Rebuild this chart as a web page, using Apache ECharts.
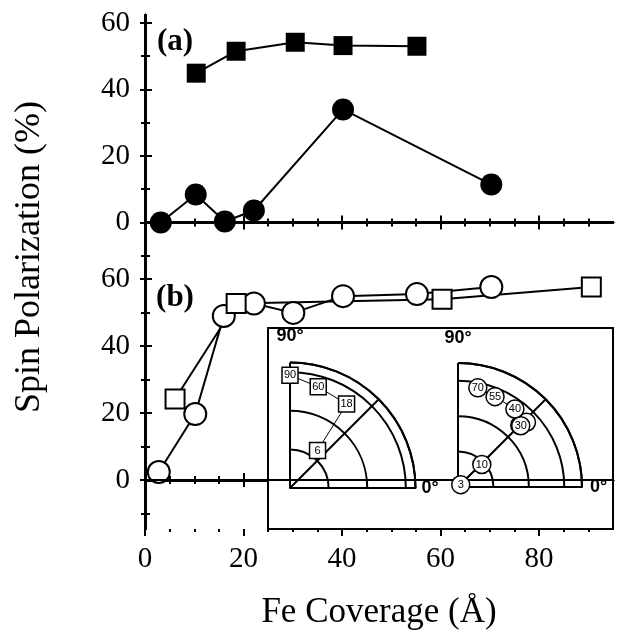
<!DOCTYPE html>
<html><head><meta charset="utf-8">
<script src="https://cdn.jsdelivr.net/npm/echarts@6/dist/echarts.min.js"></script>
<style>html,body{margin:0;padding:0;background:#fff}#c{width:618px;height:635px}</style>
</head><body><div id="c"></div>
<script>
// ---- tick values ----
const coverageMajor = [0, 20, 40, 60, 80];
const coverageMinor = [5, 10, 15, 25, 30, 35, 45, 50, 55, 65, 70, 75, 85, 90];
const polMajor = [0, 20, 40, 60];
const polMinor = [-10, 10, 30, 50];
// ---- panel (a): filled symbols ----
const aSquareX = [10.4, 18.5, 30.5, 40.2, 55.2];
const aSquareY = [44.9, 51.5, 54.2, 53.2, 53.0];
const aCircleX = [3.2, 10.3, 16.2, 22.1, 40.2, 70.3];
const aCircleY = [0, 8.4, 0.3, 3.6, 34.0, 11.4];
// ---- panel (b): open symbols ----
const bCircleX = [2.8, 10.2, 16.0, 22.1, 30.1, 40.2, 55.2, 70.3];
const bCircleY = [2.4, 19.7, 49.0, 52.7, 49.9, 54.9, 55.5, 57.6];
const bSquareX = [6.1, 18.5, 60.3, 90.6];
const bSquareY = [24.2, 52.7, 54.0, 57.6];
// ---- inset polar plots (radius = polarization, angle = degrees) ----
const sqLabels = ['90', '60', '18', '6'];
const sqRadius = [58.4, 54.4, 52.4, 24.1];
const sqAngle = [90, 74.4, 56, 53.7];
const ciLabels = ['3', '10', '16', '22', '30', '40', '55', '70'];
const ciHidden = ['16', '22'];
const ciRadius = [2, 18.5, 49.3, 53.2, 49.5, 54.5, 55.1, 57.1];
const ciAngle = [40, 43.4, 45, 43.4, 44.3, 53.9, 67.7, 78.7];

const zip = (xs, ys) => xs.map((x, i) => [x, ys[i]]);
const SERIF = 'Liberation Serif';
const SANS = 'Liberation Sans';
const AX = {color: '#000', width: 2.5};

const L = 145, W = 468;
const gridA = {left: L, top: 15, width: W, height: 256};
const gridB = {left: L, top: 271, width: W, height: 258};

function xAx(grid, pos, ticks, len, inside, extra) {
  return Object.assign({
    type: 'value', gridIndex: grid, position: pos, min: 0, max: 95,
    axisLine: {show: true, lineStyle: AX},
    axisTick: {show: true, inside: inside, length: len, customValues: ticks, lineStyle: {color: '#000', width: 2}},
    axisLabel: {show: false},
    splitLine: {show: false}
  }, extra || {});
}
function yAx(grid, pos, ticks, len, extra) {
  return Object.assign({
    type: 'value', gridIndex: grid, position: pos, min: -14.6, max: 62.4,
    axisLine: {show: true, lineStyle: AX},
    axisTick: {show: true, inside: true, length: len, customValues: ticks, lineStyle: {color: '#000', width: 2}},
    axisLabel: {show: false},
    splitLine: {show: false}
  }, extra || {});
}
const yLabel = {axisLabel: {show: true, customValues: polMajor, margin: 15, color: '#000', fontFamily: SERIF, fontSize: 29}};

const zeroLine = {silent: true, symbol: 'none', label: {show: false},
  lineStyle: {color: '#000', width: 2, type: 'solid'}, data: [{yAxis: 0}]};

function angleAx(idx, margin, pad) {
  return {
    polarIndex: idx, type: 'value', startAngle: 0, endAngle: 90, clockwise: false,
    min: 0, max: 90, interval: 45, z: 6,
    axisLine: {show: true, lineStyle: {color: '#000', width: 2}},
    axisTick: {show: false},
    splitLine: {show: true, lineStyle: {color: '#000', width: 2}},
    axisLabel: {
      show: true, margin: margin, color: '#000', fontFamily: SANS, fontWeight: 'bold', fontSize: 18,
      formatter: v => v === 90 ? '{t|90°}' : (v === 0 ? '0°' : ''),
      rich: {t: {padding: [0, 0, pad, 0], fontFamily: SANS, fontWeight: 'bold', fontSize: 18, color: '#000'}}
    }
  };
}
function radiusAx(idx, max) {
  return {
    polarIndex: idx, type: 'value', min: 0, max: max, interval: 20, z: 6,
    axisLine: {show: true, lineStyle: {color: '#000', width: 2}},
    axisTick: {show: false}, axisLabel: {show: false},
    splitLine: {show: true, lineStyle: {color: '#000', width: 2}}
  };
}
const insetLabel = {show: true, position: 'inside', formatter: '{b}', color: '#000', fontFamily: SANS, fontSize: 11};

const option = {
  animation: false,
  backgroundColor: '#fff',
  grid: [gridA, gridB, gridA, gridB, gridB, gridB],
  xAxis: [
    xAx(0, 'bottom', coverageMajor, 7, true),
    xAx(0, 'top', coverageMajor, 7, true),
    xAx(1, 'bottom', coverageMajor, 7, true, {
      axisLabel: {show: true, customValues: coverageMajor, margin: 16, color: '#000', fontFamily: SERIF, fontSize: 29},
      name: 'Fe Coverage (Å)', nameLocation: 'middle', nameGap: 66,
      nameTextStyle: {color: '#000', fontFamily: SERIF, fontSize: 35}
    }),
    xAx(1, 'top', coverageMajor, 7, true),
    xAx(2, 'bottom', coverageMinor, 4, true),
    xAx(2, 'top', coverageMinor, 4, true),
    xAx(3, 'bottom', coverageMinor, 4, true),
    xAx(3, 'top', coverageMinor, 4, true),
    xAx(4, 'bottom', coverageMajor, 7, false, {axisLine: {show: false}}),
    xAx(5, 'bottom', coverageMinor, 3, false, {axisLine: {show: false}})
  ],
  yAxis: [
    yAx(0, 'left', polMajor, 7, yLabel),
    yAx(0, 'right', polMajor, 5),
    yAx(1, 'left', polMajor, 7, yLabel),
    yAx(1, 'right', polMajor, 5),
    yAx(2, 'left', polMinor, 5),
    yAx(2, 'right', polMinor, 4),
    yAx(3, 'left', polMinor, 5),
    yAx(3, 'right', polMinor, 4),
    {type: 'value', gridIndex: 4, show: false},
    {type: 'value', gridIndex: 5, show: false}
  ],
  polar: [
    {center: [290, 488], radius: 125.5},
    {center: [458, 487], radius: 124}
  ],
  angleAxis: [angleAx(0, 6, 11), angleAx(1, 8, 8)],
  radiusAxis: [radiusAx(0, 65), radiusAx(1, 70)],
  graphic: [
    {type: 'rect', z: 5, shape: {x: 268, y: 328, width: 345, height: 201},
     style: {fill: '#fff', stroke: '#000', lineWidth: 2}},
    {type: 'text', z: 10, x: 175, y: 42, style: {text: '(a)', font: 'bold 31px "Liberation Serif"', fill: '#000', textAlign: 'center', textVerticalAlign: 'middle'}},
    {type: 'text', z: 10, x: 175, y: 298, style: {text: '(b)', font: 'bold 31px "Liberation Serif"', fill: '#000', textAlign: 'center', textVerticalAlign: 'middle'}},
    {type: 'text', z: 10, x: 30, y: 257, rotation: Math.PI / 2,
     style: {text: 'Spin Polarization (%)', font: '36px "Liberation Serif"', fill: '#000', textAlign: 'center', textVerticalAlign: 'middle'}}
  ],
  series: [
    {type: 'line', xAxisIndex: 0, yAxisIndex: 0, data: zip(aCircleX, aCircleY),
     symbol: 'circle', symbolSize: 22, itemStyle: {color: '#000'}, lineStyle: {color: '#000', width: 2},
     markLine: zeroLine},
    {type: 'line', xAxisIndex: 0, yAxisIndex: 0, data: zip(aSquareX, aSquareY),
     symbol: 'rect', symbolSize: 19, itemStyle: {color: '#000'}, lineStyle: {color: '#000', width: 2}},
    {type: 'line', xAxisIndex: 2, yAxisIndex: 2, data: zip(bCircleX, bCircleY),
     symbol: 'circle', symbolSize: 22, itemStyle: {color: '#fff', borderColor: '#000', borderWidth: 2},
     lineStyle: {color: '#000', width: 2}, markLine: zeroLine},
    {type: 'line', xAxisIndex: 2, yAxisIndex: 2, data: zip(bSquareX, bSquareY),
     symbol: 'rect', symbolSize: 19, itemStyle: {color: '#fff', borderColor: '#000', borderWidth: 2},
     lineStyle: {color: '#000', width: 2}},
    // inset polar (left): squares
    {type: 'line', coordinateSystem: 'polar', polarIndex: 0, z: 7, symbol: 'none',
     data: zip(sqRadius, sqAngle), lineStyle: {color: '#000', width: 1}},
    {type: 'scatter', coordinateSystem: 'polar', polarIndex: 0, z: 8, symbol: 'rect', symbolSize: 16,
     itemStyle: {color: '#fff', borderColor: '#000', borderWidth: 1.5, opacity: 1}, label: insetLabel,
     data: sqLabels.map((n, i) => ({name: n, value: [sqRadius[i], sqAngle[i]]}))},
    // inset polar (right): circles
    {type: 'line', coordinateSystem: 'polar', polarIndex: 1, z: 7, symbol: 'none',
     data: zip(ciRadius, ciAngle), lineStyle: {color: '#000', width: 1}},
    {type: 'scatter', coordinateSystem: 'polar', polarIndex: 1, z: 8, symbol: 'circle', symbolSize: 18,
     itemStyle: {color: '#fff', borderColor: '#000', borderWidth: 1.5, opacity: 1}, label: insetLabel,
     data: ciLabels.map((n, i) => ({name: n, value: [ciRadius[i], ciAngle[i]],
       label: {show: ciHidden.indexOf(n) < 0}}))}
  ]
};
const chart = echarts.init(document.getElementById('c'), null, {renderer: 'canvas'});
chart.setOption(option);
</script></body></html>
